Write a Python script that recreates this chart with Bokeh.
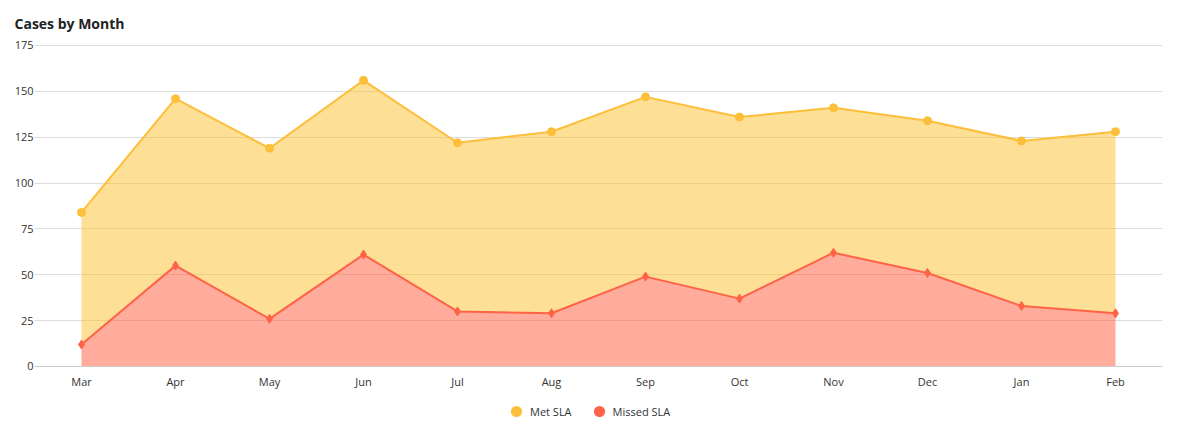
from bokeh.plotting import figure
from bokeh.models import ColumnDataSource, Legend, LegendItem, Range1d, FixedTicker
from bokeh.embed import file_html
from bokeh.resources import INLINE

months = ["Mar", "Apr", "May", "Jun", "Jul", "Aug", "Sep", "Oct", "Nov", "Dec", "Jan", "Feb"]
missed_sla = [12, 55, 26, 61, 30, 29, 49, 37, 62, 51, 33, 29]
met_sla = [72, 91, 93, 95, 92, 99, 98, 99, 79, 83, 90, 99]
y_ticks = [0, 25, 50, 75, 100, 125, 150, 175]

total = [a + b for a, b in zip(missed_sla, met_sla)]
zeros = [0] * len(months)
src = ColumnDataSource(dict(m=months, missed=missed_sla, met=met_sla, total=total, zero=zeros))

MET_LINE = "#FDBE3A"
MET_FILL = "#FBC02D"
MISS_LINE = "#FF6347"
MISS_FILL = "#FF5A3C"
FONT = "Open Sans"

# frame spans from y=44 to the bottom of the canvas; axis drawn at y=0 inside
p = figure(width=1179, height=429, x_range=months, y_range=Range1d(-34.35, 175.545),
           output_backend="svg", toolbar_location=None,
           min_border_left=34, min_border_right=17, min_border_top=44, min_border_bottom=0)
p.x_range.range_padding = 0
p.outline_line_color = None

p.title.text = "Cases by Month"
p.title.text_font = FONT
p.title.text_font_size = "14px"
p.title.text_font_style = "bold"
p.title.text_color = "#222222"
p.title.align = "left"
p.title.offset = -20
p.title.standoff = 23

p.varea(x="m", y1="zero", y2="missed", source=src, fill_color=MISS_FILL, fill_alpha=0.5)
p.varea(x="m", y1="missed", y2="total", source=src, fill_color=MET_FILL, fill_alpha=0.5)

p.line(x="m", y="total", source=src, line_color=MET_LINE, line_width=2)
p.scatter(x="m", y="total", source=src, marker="circle", size=8, fill_color=MET_LINE, line_color=MET_LINE)
p.line(x="m", y="missed", source=src, line_color=MISS_LINE, line_width=2)
p.scatter(x="m", y="missed", source=src, marker="diamond", size=9, fill_color=MISS_LINE, line_color=MISS_LINE)

# zero-size circle renderers used only for the legend swatches
leg_met = p.scatter(x="m", y="total", source=src, marker="circle", size=0, fill_color=MET_LINE, line_color=None)
leg_miss = p.scatter(x="m", y="missed", source=src, marker="circle", size=0, fill_color=MISS_LINE, line_color=None)

legend = Legend(items=[LegendItem(label="Met SLA", renderers=[leg_met]),
                       LegendItem(label="Missed SLA", renderers=[leg_miss])],
                orientation="horizontal", location=(468, 4),
                label_text_font=FONT, label_text_font_size="11px", label_text_color="#333333",
                glyph_width=28, glyph_height=28, spacing=13, label_standoff=0,
                border_line_color=None, background_fill_alpha=0, padding=4, margin=0)
p.add_layout(legend)

p.yaxis.ticker = FixedTicker(ticks=y_ticks)
p.yaxis.axis_line_color = None
p.yaxis.major_tick_line_color = None
p.yaxis.minor_tick_line_color = None
p.yaxis.major_tick_out = 0
p.yaxis.major_tick_in = 0
p.yaxis.major_label_standoff = 1
p.yaxis.major_label_text_font = FONT
p.yaxis.major_label_text_font_size = "11px"
p.yaxis.major_label_text_color = "#333333"

p.xaxis.fixed_location = 0
p.xaxis.axis_line_color = "#cccccc"
p.xaxis.major_tick_line_color = None
p.xaxis.minor_tick_line_color = None
p.xaxis.major_tick_out = 0
p.xaxis.major_tick_in = 0
p.xaxis.major_label_standoff = 8
p.xaxis.major_label_text_font = FONT
p.xaxis.major_label_text_font_size = "11px"
p.xaxis.major_label_text_color = "#333333"

p.xgrid.grid_line_color = None
p.ygrid.grid_line_color = "#dddddd"

open("out.html", "w").write(file_html(p, INLINE))
